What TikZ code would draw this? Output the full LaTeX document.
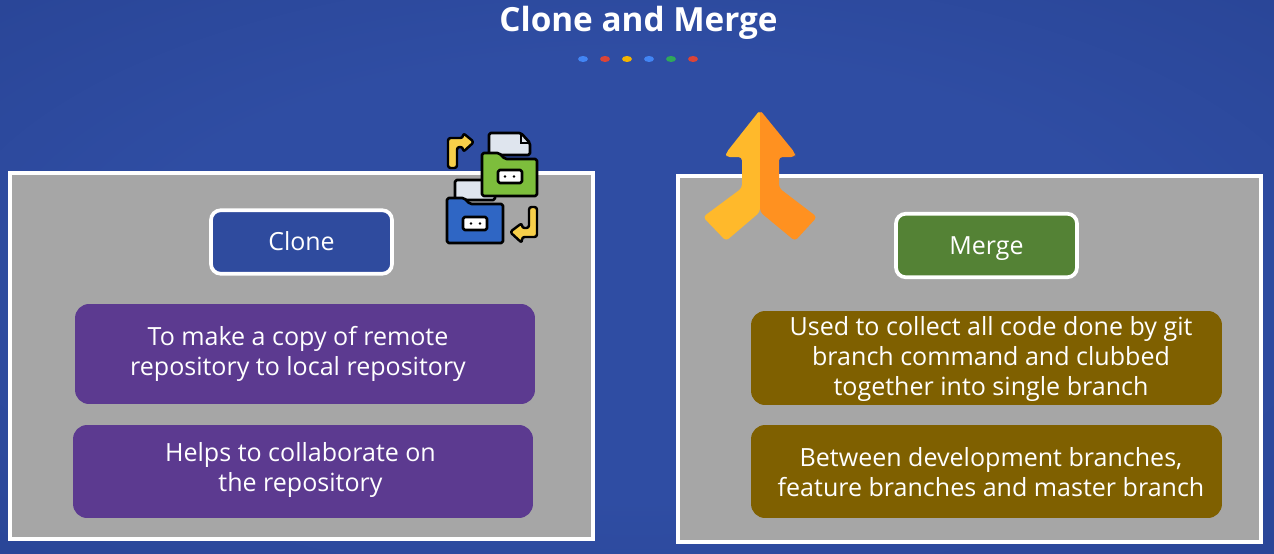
\documentclass[tikz,border=0pt]{standalone}
\usepackage{fontspec}
\setmainfont{Open Sans}
\definecolor{bgdark}{HTML}{213A83}
\definecolor{bgmid}{HTML}{2A4698}
\definecolor{bglight}{HTML}{2F4DA3}
\definecolor{panelgray}{HTML}{A6A6A6}
\definecolor{clonefill}{HTML}{2F4B9E}
\definecolor{mergefill}{HTML}{548235}
\definecolor{purplefill}{HTML}{5C3A90}
\definecolor{olivefill}{HTML}{7F6000}
\definecolor{arrowleft}{HTML}{FFB92B}
\definecolor{arrowright}{HTML}{FF9120}
\definecolor{foldergreen}{HTML}{7DBE3C}
\definecolor{folderblue}{HTML}{2F66C4}
\definecolor{paper}{HTML}{DFE5EE}
\definecolor{swapyellow}{HTML}{F7CF4A}
\definecolor{dotblue}{HTML}{4285F4}
\definecolor{dotred}{HTML}{DB4437}
\definecolor{dotyellow}{HTML}{F4B400}
\definecolor{dotgreen}{HTML}{2FA85A}
\pgfdeclareradialshading{bgglow}{\pgfpoint{0bp}{0bp}}{color(0bp)=(bglight); color(20bp)=(bglight); color(35bp)=(bgmid); color(50bp)=(bgdark)}
\tikzset{
  panel/.style={draw=white, line width=1.9pt, fill=panelgray, minimum width=11.66cm, minimum height=7.32cm},
  titlebox/.style={draw=white, line width=2.1pt, rounded corners=5.5pt, minimum width=3.62cm, minimum height=1.27cm, text=white, text height=10pt, text depth=0pt, font=\fontsize{14.2}{17}\selectfont},
  textbox/.style={rounded corners=8pt},
  boxtext/.style={text=white, align=center, font=\fontsize{14.25}{17.1}\selectfont},
  iconline/.style={draw=black, line width=1.5pt, line join=round, rounded corners=1pt},
  swaparrow/.style={draw=black, fill=swapyellow, line width=1.4pt, line join=round, rounded corners=1.5pt},
}
\begin{document}
\begin{tikzpicture}[x=0.02cm, y=-0.02cm]
  \useasboundingbox (0,0) rectangle (1274,554);
  % Fond
  \shade[shading=bgglow] (0,0) rectangle (1274,554);
  % Titre
  \node[text=white, font=\bfseries\fontsize{18.95}{22}\selectfont] (title) at (638.5,23) {Clone and Merge};
  \foreach \px/\col in {583/dotblue, 605/dotred, 627/dotyellow, 649/dotblue, 671/dotgreen, 693/dotred}
    \fill[\col] (\px,59) ellipse (5 and 3);
  % Panneaux
  \node[panel] (clonepanel) at (301.5,356) {};
  \node[panel] (mergepanel) at (969.5,359) {};
  % Fusion
  \fill[arrowleft, rounded corners=2pt] (760,110) -- (726,153) -- (726,157) -- (742,157) -- (742,188) -- (703,217) -- (726,241) -- (760,212) -- cycle;
  \fill[arrowright, rounded corners=2pt] (760,110) -- (795,153) -- (795,157) -- (779,157) -- (779,188) -- (817,217) -- (795,241) -- (760,212) -- cycle;
  % Dossiers
  \draw[swaparrow] (448,168) -- (448,138) -- (463,138) -- (463,133) -- (474,142) -- (463,152) -- (463,147) -- (457,147) -- (457,168) -- cycle;
  \draw[iconline, fill=paper] (455,200) -- (455,180) -- (495,180) -- (495,200) -- cycle;
  \draw[iconline, fill=paper] (489,155) -- (489,133) -- (521,133) -- (530,143) -- (530,155) -- cycle;
  \draw[black, line width=0.8pt] (521,133) -- (521,143) -- (530,143);
  \draw[iconline, fill=foldergreen] (482,196) -- (482,153) -- (499,153) -- (505,159) -- (537,159) -- (537,196) -- cycle;
  \draw[iconline, fill=white] (498,170) rectangle (522,183);
  \fill (505,176.5) circle (1.3) (514,176.5) circle (1.3);
  \draw[iconline, fill=folderblue] (447,243) -- (447,198) -- (464,198) -- (470,204) -- (503,204) -- (503,243) -- cycle;
  \draw[iconline, fill=white] (463,217) rectangle (487,230);
  \fill (471,223.5) circle (1.3) (480,223.5) circle (1.3);
  \draw[swaparrow] (529,207) -- (537,207) -- (537,237) -- (522,237) -- (522,243) -- (510,232) -- (522,223) -- (522,228) -- (529,228) -- cycle;
  % Boites
  \node[titlebox, fill=clonefill] (clonebox) at (301.5,242) {Clone};
  \node[titlebox, fill=mergefill] (mergebox) at (986.5,245.5) {Merge};
  \node[textbox, fill=purplefill, minimum width=9.2cm, minimum height=2cm] (copybox) at (305,354) {};
  \node[textbox, fill=purplefill, minimum width=9.2cm, minimum height=1.86cm] (helpbox) at (303,471.5) {};
  \node[textbox, fill=olivefill, minimum width=9.42cm, minimum height=1.88cm] (collectbox) at (986.5,358) {};
  \node[textbox, fill=olivefill, minimum width=9.42cm, minimum height=1.86cm] (betweenbox) at (986.5,471.5) {};
  % Textes
  \node[boxtext] (copytext) at (298,354) {To make a copy of remote\\repository to local repository};
  \node[boxtext] (helptext) at (300.5,470) {Helps to collaborate on\\the repository};
  \node[boxtext] (collecttext) at (991,359) {Used to collect all code done by git\\branch command and clubbed\\together into single branch};
  \node[boxtext] (betweentext) at (991,472) {Between development branches,\\feature branches and master branch};
\end{tikzpicture}
\end{document}
